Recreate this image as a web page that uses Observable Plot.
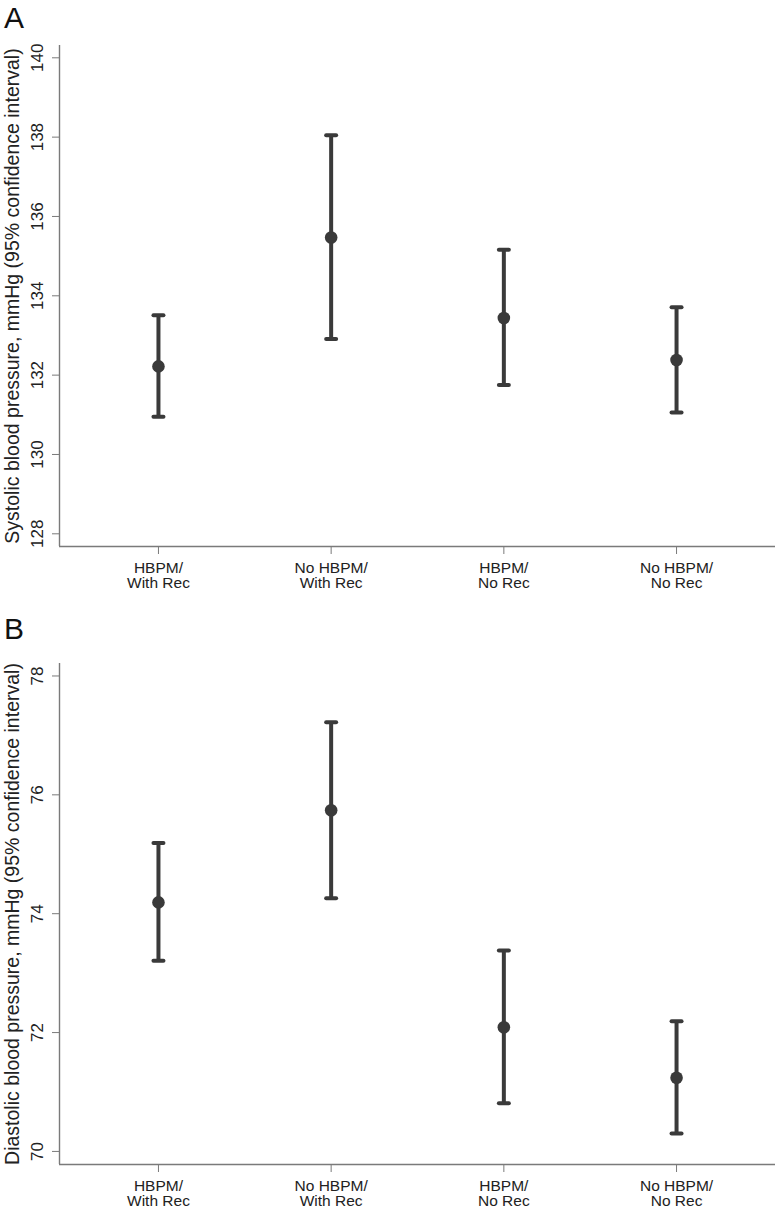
<!DOCTYPE html>
<html>
<head>
<meta charset="utf-8">
<script src="https://cdn.jsdelivr.net/npm/d3@7"></script>
<script src="https://cdn.jsdelivr.net/npm/@observablehq/plot@0.6"></script>
<style>
  html, body { margin: 0; padding: 0; background: #fff; }
  #root { position: relative; width: 780px; height: 1211px; font-family: "Liberation Sans", Arial, Helvetica, sans-serif; }
  .panel-letter { position: absolute; left: 4px; font-size: 30px; line-height: 1; color: #111; z-index: 2; }
  .panel { position: absolute; left: 0; z-index: 1; }
  .panel svg { display: block; }
</style>
</head>
<body>
<div id="root">
  <div class="panel" id="panelA" style="top:0px"></div>
  <div class="panel" id="panelB" style="top:600px"></div>
  <div class="panel-letter" style="top:3px">A</div>
  <div class="panel-letter" style="top:614px">B</div>
</div>
<script>
// ---- data ----
const categories = ["HBPM/\nWith Rec", "No HBPM/\nWith Rec", "HBPM/\nNo Rec", "No HBPM/\nNo Rec"];

const sbpMean = [132.22, 135.47, 133.44, 132.38];
const sbpLow  = [130.95, 132.91, 131.75, 131.06];
const sbpHigh = [133.51, 138.05, 135.16, 133.71];

const dbpMean = [74.19, 75.74, 72.09, 71.24];
const dbpLow  = [73.21, 74.26, 70.81, 70.30];
const dbpHigh = [75.19, 77.22, 73.38, 72.19];

const yTicksA = [128, 130, 132, 134, 136, 138, 140];
const yTicksB = [70, 72, 74, 76, 78];
const yDomainA = [127.68, 140.31];
const yDomainB = [69.78, 78.21];

const titleA = "Systolic blood pressure, mmHg (95% confidence interval)";
const titleB = "Diastolic blood pressure, mmHg (95% confidence interval)";

// ---- helpers ----
const barColor = "#3a3a3a";
const axisColor = "#7a7a7a";
const textColor = "#222";
const xPad = 0.573;

const capSymbol = {
  draw(context, size) {
    const w = Math.sqrt(size / Math.PI);
    context.moveTo(-w, 0);
    context.lineTo(w, 0);
  }
};

function panel({mean, low, high, yDomain, yTicks, title, height, marginTop, marginBottom}) {
  const rows = categories.map((c, i) => ({i, cat: c, mean: mean[i], low: low[i], high: high[i]}));
  return Plot.plot({
    width: 780,
    height,
    marginLeft: 59,
    marginRight: 5,
    marginTop,
    marginBottom,
    style: {fontFamily: '"Liberation Sans", Arial, Helvetica, sans-serif', fontSize: "16px", color: textColor, background: "#fff", overflow: "visible"},
    x: {domain: [-xPad, categories.length - 1 + xPad], axis: null},
    y: {domain: yDomain, axis: null},
    marks: [
      // axis lines
      Plot.ruleY([yDomain[0]], {stroke: axisColor, strokeWidth: 1.4}),
      Plot.ruleX([-xPad], {stroke: axisColor, strokeWidth: 1.4}),
      // y axis: rotated tick labels
      Plot.axisY({
        ticks: yTicks,
        tickSize: 7,
        tickPadding: 10,
        tickRotate: -90,
        stroke: axisColor,
        fill: textColor,
        fontSize: 17,
        label: null
      }),
      // x axis: category labels
      Plot.axisX({
        ticks: d3.range(categories.length),
        tickFormat: (d) => categories[d],
        tickSize: 8,
        tickPadding: 8,
        stroke: axisColor,
        fill: textColor,
        fontSize: 15.5,
        lineHeight: 0.97,
        label: null
      }),
      // y axis title
      Plot.text([title], {
        frameAnchor: "left",
        text: (d) => d,
        rotate: -90,
        dx: -54,
        textAnchor: "middle",
        lineAnchor: "top",
        fontSize: 19.5,
        fill: textColor
      }),
      // CI bars
      Plot.ruleX(rows, {x: "i", y1: "low", y2: "high", stroke: barColor, strokeWidth: 4}),
      Plot.dot(rows, {x: "i", y: "low", symbol: capSymbol, r: 5, fill: "none", stroke: barColor, strokeWidth: 4, strokeLinecap: "round"}),
      Plot.dot(rows, {x: "i", y: "high", symbol: capSymbol, r: 5, fill: "none", stroke: barColor, strokeWidth: 4, strokeLinecap: "round"}),
      // point estimates
      Plot.dot(rows, {x: "i", y: "mean", r: 6.3, fill: barColor, stroke: "none"})
    ]
  });
}

document.getElementById("panelA").appendChild(panel({
  mean: sbpMean, low: sbpLow, high: sbpHigh, yDomain: yDomainA, yTicks: yTicksA, title: titleA,
  height: 600, marginTop: 45, marginBottom: 54
}));
document.getElementById("panelB").appendChild(panel({
  mean: dbpMean, low: dbpLow, high: dbpHigh, yDomain: yDomainB, yTicks: yTicksB, title: titleB,
  height: 611, marginTop: 63, marginBottom: 47
}));
</script>
</body>
</html>
